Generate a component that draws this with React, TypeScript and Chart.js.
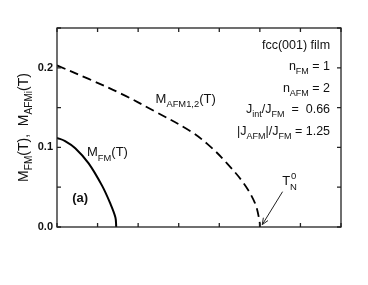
import React, { useEffect, useRef } from "react";
import { Chart, registerables } from "chart.js";

Chart.register(...registerables);

const FM_T = [0, 0.2, 0.45, 0.78, 1.11, 1.31, 1.44, 1.46];
const FM_M = [0.112, 0.108, 0.099, 0.08, 0.052, 0.03, 0.012, 0];
const AFM_T = [0, 0.78, 1.6, 2.42, 3.3, 3.78, 4.19, 4.6, 4.88, 4.99, 5.0];
const AFM_M = [0.203, 0.186, 0.167, 0.145, 0.12, 0.101, 0.08, 0.055, 0.03, 0.008, 0];
const X_TICKS = [0, 1, 2, 3, 4, 5, 6, 7];
const Y_TICKS = [0, 0.05, 0.1, 0.15, 0.2, 0.25];

const FONT = '"Liberation Sans", Arial, Helvetica, sans-serif';

type Part = { t: string; s?: number };

function drawRich(ctx: CanvasRenderingContext2D, parts: Part[], x: number, y: number, size: number, align: "left" | "right", bold = false) {
  const sub = size * 0.72;
  const fontFor = (p: Part) => `${bold ? "bold " : ""}${p.s ? sub : size}px ${FONT}`;
  let w = 0;
  for (const p of parts) {
    ctx.font = fontFor(p);
    w += ctx.measureText(p.t).width;
  }
  let cx = align === "right" ? x - w : x;
  ctx.textAlign = "left";
  ctx.textBaseline = "alphabetic";
  for (const p of parts) {
    ctx.font = fontFor(p);
    const dy = p.s === -1 ? size * 0.32 : p.s === 1 ? -size * 0.45 : 0;
    ctx.fillText(p.t, cx, y + dy);
    cx += ctx.measureText(p.t).width;
  }
  return w;
}

const decor = {
  id: "decor",
  afterDraw(chart: any) {
    const ctx: CanvasRenderingContext2D = chart.ctx;
    const { left, right, top, bottom } = chart.chartArea;
    const xs = chart.scales.x;
    const ys = chart.scales.y;
    const px = (v: number) => xs.getPixelForValue(v);
    const py = (v: number) => ys.getPixelForValue(v);
    ctx.save();
    ctx.strokeStyle = "#222";
    ctx.lineWidth = 1.3;
    ctx.strokeRect(left, top, right - left, bottom - top);
    ctx.beginPath();
    const tl = 4;
    for (const t of X_TICKS) {
      const x = px(t);
      ctx.moveTo(x, bottom);
      ctx.lineTo(x, bottom - tl);
      ctx.moveTo(x, top);
      ctx.lineTo(x, top + tl);
    }
    for (const t of Y_TICKS) {
      const y = py(t);
      ctx.moveTo(left, y);
      ctx.lineTo(left + tl, y);
      ctx.moveTo(right, y);
      ctx.lineTo(right - tl, y);
    }
    ctx.stroke();

    ctx.fillStyle = "#111";
    const ax = px(6.73);
    drawRich(ctx, [{ t: "fcc(001) film" }], ax, py(0.224), 12.5, "right");
    drawRich(ctx, [{ t: "n" }, { t: "FM", s: -1 }, { t: " = 1" }], ax, py(0.197), 12.5, "right");
    drawRich(ctx, [{ t: "n" }, { t: "AFM", s: -1 }, { t: " = 2" }], ax, py(0.170), 12.5, "right");
    drawRich(ctx, [{ t: "J" }, { t: "int", s: -1 }, { t: "/J" }, { t: "FM", s: -1 }, { t: "  =  0.66" }], ax, py(0.1436), 12.5, "right");
    drawRich(ctx, [{ t: "|J" }, { t: "AFM", s: -1 }, { t: "|/J" }, { t: "FM", s: -1 }, { t: " = 1.25" }], ax, py(0.1158), 12.5, "right");

    drawRich(ctx, [{ t: "M" }, { t: "FM", s: -1 }, { t: "(T)" }], px(0.74), py(0.0887), 13, "left");
    drawRich(ctx, [{ t: "M" }, { t: "AFM1,2", s: -1 }, { t: "(T)" }], px(2.43), py(0.1555), 13, "left");
    drawRich(ctx, [{ t: "(a)" }], px(0.377), py(0.031), 13, "left", true);

    // T_N^0
    const tx = px(5.55);
    const tyb = py(0.053);
    ctx.font = `13px ${FONT}`;
    ctx.fillText("T", tx, tyb);
    const tw = ctx.measureText("T").width;
    ctx.font = `9.5px ${FONT}`;
    ctx.fillText("0", tx + tw + 1, tyb - 6);
    ctx.fillText("N", tx + tw, tyb + 5);

    // arrow
    const x0 = px(5.56), y0 = py(0.0444);
    const x1 = px(5.06), y1 = py(0.003);
    ctx.strokeStyle = "#222";
    ctx.lineWidth = 1;
    ctx.beginPath();
    ctx.moveTo(x0, y0);
    ctx.lineTo(x1, y1);
    const ang = Math.atan2(y1 - y0, x1 - x0);
    const ah = 7, aw = 0.4;
    ctx.moveTo(x1 - ah * Math.cos(ang - aw), y1 - ah * Math.sin(ang - aw));
    ctx.lineTo(x1, y1);
    ctx.lineTo(x1 - ah * Math.cos(ang + aw), y1 - ah * Math.sin(ang + aw));
    ctx.stroke();

    // y-axis title
    ctx.save();
    ctx.translate(28, (top + bottom) / 2);
    ctx.rotate(-Math.PI / 2);
    ctx.fillStyle = "#111";
    const parts: Part[] = [{ t: "M" }, { t: "FM", s: -1 }, { t: "(T),  M" }, { t: "AFMi", s: -1 }, { t: "(T)" }];
    let w = 0;
    for (const p of parts) {
      ctx.font = `${p.s ? 10.08 : 14}px ${FONT}`;
      w += ctx.measureText(p.t).width;
    }
    drawRich(ctx, parts, -w / 2, 0, 14, "left");
    ctx.restore();

    ctx.restore();
  },
};

export default function App() {
  const ref = useRef<HTMLCanvasElement>(null);
  useEffect(() => {
    document.body.style.margin = "0";
    const canvas = ref.current!;
    const chart = new Chart(canvas, {
      type: "line",
      data: {
        datasets: [
          {
            data: FM_T.map((t, i) => ({ x: t, y: FM_M[i] })),
            borderColor: "#000",
            borderWidth: 2,
            pointRadius: 0,
            tension: 0.35,
            fill: false,
          },
          {
            data: AFM_T.map((t, i) => ({ x: t, y: AFM_M[i] })),
            borderColor: "#000",
            borderWidth: 1.8,
            borderDash: [9, 5],
            pointRadius: 0,
            tension: 0.35,
            fill: false,
          },
        ],
      },
      options: {
        responsive: false,
        animation: false,
        layout: { padding: { top: 28, right: 27, bottom: 58, left: 0 } },
        plugins: { legend: { display: false }, tooltip: { enabled: false } },
        scales: {
          x: { type: "linear", min: 0, max: 7, display: false },
          y: {
            min: 0,
            max: 0.25,
            afterFit: (s: any) => {
              s.width = 57;
            },
            grid: { display: false, drawTicks: false, tickLength: 0 },
            border: { display: false },
            ticks: {
              stepSize: 0.05,
              padding: 4,
              color: "#111",
              font: { family: FONT, size: 11, weight: "bold" },
              callback: (v: any) => {
                const n = Number(v);
                return Math.abs(n * 10 - Math.round(n * 10)) < 1e-6 ? n.toFixed(1) : "";
              },
            },
          },
        },
      },
      plugins: [decor],
    });
    return () => chart.destroy();
  }, []);
  return <canvas ref={ref} width={368} height={285} style={{ display: "block", background: "#fff" }} />;
}
